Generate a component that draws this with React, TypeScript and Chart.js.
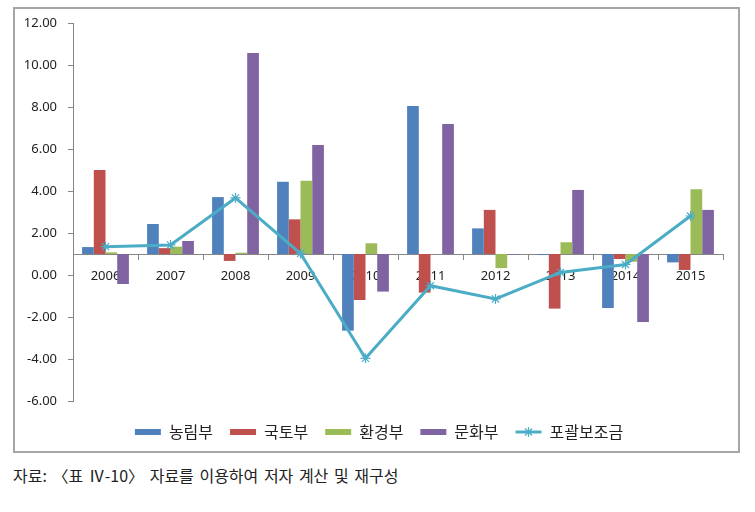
import React, { useEffect, useRef } from "react";
import { Chart, registerables } from "chart.js";

Chart.register(...registerables);

const years = ["2006", "2007", "2008", "2009", "2010", "2011", "2012", "2013", "2014", "2015"];
const seriesNames = ["농림부", "국토부", "환경부", "문화부", "포괄보조금"];
const agri = [1.33, 2.43, 3.71, 4.44, -2.65, 8.05, 2.22, 0.95, -1.57, 0.6];
const land = [5.0, 1.28, 0.67, 2.65, -1.19, -0.84, 3.1, -1.6, 0.76, 0.24];
const env = [1.08, 1.35, 1.06, 4.49, 1.51, 1.0, 0.33, 1.56, 0.63, 4.08];
const culture = [-0.43, 1.62, 10.57, 6.19, -0.79, 7.19, 0.97, 4.05, -2.24, 3.1];
const block = [1.35, 1.43, 3.67, 1.02, -3.97, -0.51, -1.14, 0.12, 0.5, 2.81];
const yTicks = { min: -6, max: 12, step: 2 };
const axisCross = 1;
const caption = "자료: 〈표 Ⅳ-10〉 자료를 이용하여 저자 계산 및 재구성";

const colors = ["#4F81BD", "#C0504D", "#9BBB59", "#8064A2", "#4BACC6"];
const axisColor = "#868686";
const numFont = "'Noto Sans', 'DejaVu Sans', sans-serif";
const cjkFont = "'Noto Sans CJK KR', 'Noto Sans', sans-serif";

const legendLinePlugin = {
  id: "legendLine",
  afterLayout(chart: any) {
    const lg = chart.legend;
    if (lg) {
      lg.left += 10;
      lg.right += 10;
    }
  },
  afterDraw(chart: any) {
    const legend = chart.legend;
    if (!legend || !legend.legendHitBoxes || !legend.legendItems) return;
    const idx = legend.legendItems.findIndex((it: any) => it.datasetIndex === 4);
    if (idx < 0) return;
    const hb = legend.legendHitBoxes[idx];
    const bw = legend.options.labels.boxWidth;
    const ctx = chart.ctx;
    const cy = hb.top + hb.height / 2;
    const cx = hb.left + bw / 2;
    ctx.save();
    ctx.strokeStyle = colors[4];
    ctx.lineWidth = 3;
    ctx.beginPath();
    ctx.moveTo(hb.left, cy);
    ctx.lineTo(hb.left + bw, cy);
    ctx.stroke();
    ctx.lineWidth = 1.2;
    const r = 5;
    ctx.beginPath();
    ctx.moveTo(cx, cy - r);
    ctx.lineTo(cx, cy + r);
    const d = r * Math.SQRT1_2;
    ctx.moveTo(cx - d, cy - d);
    ctx.lineTo(cx + d, cy + d);
    ctx.moveTo(cx - d, cy + d);
    ctx.lineTo(cx + d, cy - d);
    ctx.stroke();
    ctx.restore();
  },
};

export default function App() {
  const ref = useRef<HTMLCanvasElement | null>(null);

  useEffect(() => {
    if (!ref.current) return;
    const barData = [agri, land, env, culture];
    const datasets: any[] = barData.map((d, i) => ({
      type: "bar",
      label: seriesNames[i],
      data: d,
      base: axisCross,
      backgroundColor: colors[i],
      borderColor: colors[i],
      borderWidth: 0,
      categoryPercentage: 0.72,
      barPercentage: 1,
      order: 1,
    }));
    datasets.push({
      type: "line",
      label: seriesNames[4],
      data: block,
      borderColor: colors[4],
      backgroundColor: colors[4],
      borderWidth: 3,
      pointStyle: "star",
      pointRadius: 5,
      pointBorderWidth: 1.2,
      pointBorderColor: colors[4],
      pointBackgroundColor: colors[4],
      tension: 0,
      fill: false,
      order: 0,
    });

    const chart = new Chart(ref.current, {
      type: "bar",
      data: { labels: years, datasets },
      plugins: [legendLinePlugin],
      options: {
        responsive: false,
        animation: false,
        events: [],
        layout: { padding: { left: 0, right: 15, top: 14, bottom: 1 } },
        scales: {
          x: {
            type: "category",
            position: { y: axisCross } as any,
            offset: true,
            grid: {
              display: true,
              drawOnChartArea: false,
              drawTicks: true,
              tickLength: 5,
              offset: true,
              color: axisColor,
            },
            border: { display: true, color: axisColor, width: 1 },
            ticks: {
              padding: 9,
              color: "#222",
              font: { family: numFont, size: 13 },
              maxRotation: 0,
              autoSkip: false,
            },
          },
          y: {
            type: "linear",
            min: yTicks.min,
            max: yTicks.max,
            afterFit: (scale: any) => {
              scale.width = 58;
              scale.paddingTop = 0;
              scale.paddingBottom = 0;
            },
            grid: {
              display: true,
              drawOnChartArea: false,
              drawTicks: true,
              tickLength: 5,
              color: axisColor,
            },
            border: { display: true, color: axisColor, width: 1 },
            ticks: {
              stepSize: yTicks.step,
              padding: 11,
              color: "#222",
              font: { family: numFont, size: 13 },
              callback: (v: any) => Number(v).toFixed(2),
            },
          },
        },
        plugins: {
          tooltip: { enabled: false },
          legend: {
            display: true,
            position: "bottom",
            title: { display: true, text: "", font: { size: 1, lineHeight: 1 }, padding: { top: 5, bottom: 0 } },
            labels: {
              boxWidth: 26,
              boxHeight: 6,
              padding: 17,
              color: "#222",
              font: { family: cjkFont, size: 16 },
              sort: (a: any, b: any) => a.datasetIndex - b.datasetIndex,
              generateLabels: (c: any) => {
                const items = (Chart.defaults.plugins.legend.labels as any).generateLabels(c);
                return items.map((it: any) =>
                  it.datasetIndex === 4
                    ? { ...it, fillStyle: "rgba(0,0,0,0)", strokeStyle: "rgba(0,0,0,0)", lineWidth: 0 }
                    : { ...it, lineWidth: 0 }
                );
              },
            },
          },
        },
      } as any,
    });
    return () => chart.destroy();
  }, []);

  return (
    <div style={{ position: "absolute", left: 0, top: 0, width: 755, height: 512, background: "#fff" }}>
      <div
        style={{
          position: "absolute",
          left: 13,
          top: 7,
          width: 727,
          height: 446,
          border: "2px solid #a6a6a6",
          boxSizing: "border-box",
          background: "#fff",
        }}
      >
        <canvas ref={ref} width={723} height={442} style={{ display: "block", width: 723, height: 442 }} />
      </div>
      <div
        style={{
          position: "absolute",
          left: 13,
          top: 465,
          fontFamily: cjkFont,
          fontSize: 16,
          lineHeight: "20px",
          color: "#222",
          wordSpacing: 2,
          whiteSpace: "nowrap",
        }}
      >
        {caption}
      </div>
    </div>
  );
}
